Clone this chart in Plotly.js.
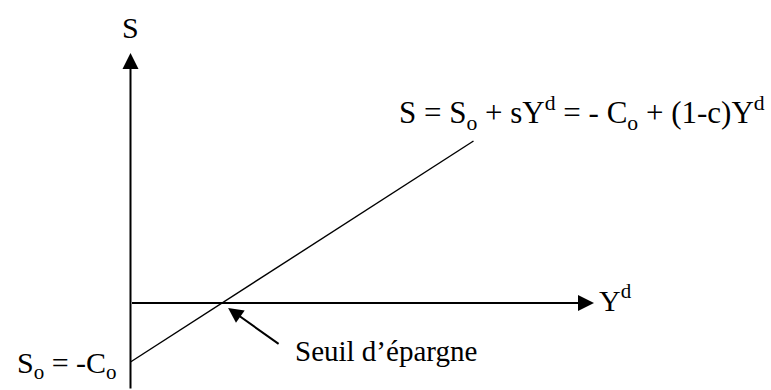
<!DOCTYPE html>
<html>
<head>
<meta charset="utf-8">
<script src="https://cdn.plot.ly/plotly-3.0.1.min.js"></script>
<style>html,body{margin:0;padding:0;background:#fff;}#chart{width:771px;height:390px;}</style>
</head>
<body>
<div id="chart"></div>
<script>
// Savings function S = S_o + s*Yd (origin at axes crossing)
const incomeYd = [0, 343];
const savingS = [-59, 162];
// Axis extents
const yAxisBottom = -87;
const yAxisTop = 250;
const xAxisEnd = 463.5;
// Threshold (break-even) point where S = 0
const thresholdYd = 91.6;
// Labels
const labelS = "S";
const labelYd = "Y<sup>d</sup>";
const labelEq = "S = S<sub>o</sub> + sY<sup>d</sup> = - C<sub>o</sub> + (1-c)Y<sup>d</sup>";
const labelIntercept = "S<sub>o</sub> = -C<sub>o</sub>";
const labelThreshold = "Seuil d\u2019épargne";

const FAMILY = "'Liberation Serif', 'Times New Roman', 'DejaVu Serif', serif";
function font(sz) { return {family: FAMILY, size: sz || 30, color: "#000000"}; }

const traces = [{
  x: incomeYd, y: savingS, type: "scatter", mode: "lines",
  line: {color: "#000", width: 1.4}, hoverinfo: "skip", showlegend: false
}];

const layout = {
  width: 771, height: 390,
  margin: {l: 0, r: 0, t: 0, b: 0},
  paper_bgcolor: "#fff", plot_bgcolor: "#fff",
  showlegend: false,
  font: font(30),
  xaxis: {range: [-130.5, 640.5], visible: false, fixedrange: true},
  yaxis: {range: [-87, 303], visible: false, fixedrange: true},
  annotations: [
    // vertical axis S
    {x: 0, y: yAxisTop, ax: 0, ay: yAxisBottom, axref: "x", ayref: "y", xref: "x", yref: "y",
     text: "", showarrow: true, arrowhead: 2, arrowsize: 1.6, arrowwidth: 2, arrowcolor: "#000"},
    // horizontal axis Yd
    {x: xAxisEnd, y: 0, ax: 0, ay: 0, axref: "x", ayref: "y", xref: "x", yref: "y",
     text: "", showarrow: true, arrowhead: 2, arrowsize: 1.6, arrowwidth: 2, arrowcolor: "#000"},
    // threshold arrow
    {x: thresholdYd + 6, y: -5, ax: thresholdYd + 58, ay: -42, axref: "x", ayref: "y", xref: "x", yref: "y",
     text: "", showarrow: true, arrowhead: 2, arrowsize: 1.5, arrowwidth: 2, arrowcolor: "#000"},
    {x: 0, y: 276, xref: "x", yref: "y", text: labelS, showarrow: false, font: font(30), xanchor: "center", yanchor: "middle"},
    {x: xAxisEnd + 3, y: 5, xref: "x", yref: "y", text: labelYd, showarrow: false, font: font(30), xanchor: "left", yanchor: "middle"},
    {x: 266.5, y: 190, xref: "x", yref: "y", text: labelEq, showarrow: false, font: font(31), xanchor: "left", yanchor: "middle"},
    {x: -12, y: -62, xref: "x", yref: "y", text: labelIntercept, showarrow: false, font: font(30), xanchor: "right", yanchor: "middle"},
    {x: 162, y: -48, xref: "x", yref: "y", text: labelThreshold, showarrow: false, font: font(29), xanchor: "left", yanchor: "middle"}
  ]
};

Plotly.newPlot("chart", traces, layout, {displayModeBar: false, staticPlot: true});
</script>
</body>
</html>
